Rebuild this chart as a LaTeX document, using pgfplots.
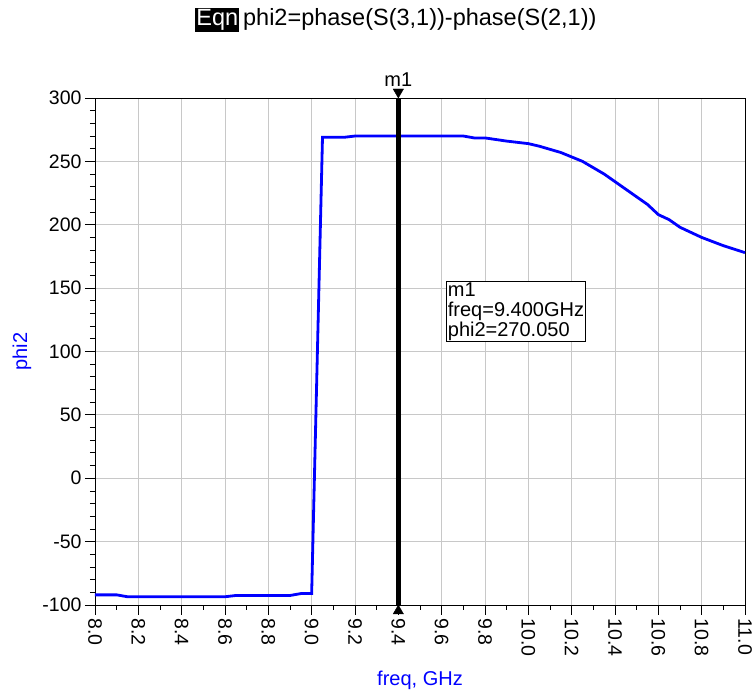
\documentclass[border=0pt]{standalone}
\usepackage{fontspec}
\setmainfont{Liberation Sans}
\usepackage{pgfplots}
\pgfplotsset{compat=1.18}
\definecolor{gridgray}{RGB}{200,200,200}
\definecolor{adsblue}{RGB}{0,0,255}
\begin{document}
\begin{tikzpicture}
\begin{axis}[
  scale only axis, width=650pt, height=507pt,
  at={(0,0)}, anchor=south west,
  xmin=8, xmax=11, ymin=-100, ymax=300,
  xtick={8.0,8.2,8.4,8.6,8.8,9.0,9.2,9.4,9.6,9.8,10.0,10.2,10.4,10.6,10.8,11.0},
  ytick={-100,-50,0,50,100,150,200,250,300},
  minor x tick num=1, minor y tick num=4,
  tick align=outside, major tick length=10pt, minor tick length=5pt,
  xtick pos=bottom, ytick pos=left,
  grid=major, major grid style={gridgray, line width=0.8pt},
  axis line style={black, line width=0.8pt},
  tick style={black, line width=0.8pt},
  /pgf/number format/assume math mode=true,
  ticklabel style={font=\fontsize{19.5}{21}\selectfont},
  xticklabel style={rotate=-90, anchor=west, /pgf/number format/fixed, /pgf/number format/precision=1, /pgf/number format/fixed zerofill},
  xlabel={freq, GHz}, ylabel={phi2},
  every axis x label/.style={at={([yshift=-75pt]axis description cs:0.5,0)}, anchor=center, font=\fontsize{20}{22}\selectfont, text=adsblue},
  every axis y label/.style={at={([xshift=-73pt]axis description cs:0,0.5)}, anchor=center, rotate=90, font=\fontsize{20}{22}\selectfont, text=adsblue},
  clip=false,
]
\addplot[adsblue, line width=2.8pt] coordinates {
(8.00,-92) (8.10,-92) (8.15,-93.5) (8.60,-93.5) (8.65,-92.5) (8.90,-92.5)
(8.95,-91) (9.00,-91) (9.05,269) (9.15,269) (9.20,270) (9.70,270)
(9.75,268.5) (9.80,268.5) (9.90,266) (10.00,264) (10.05,262) (10.15,257)
(10.25,250) (10.30,245) (10.35,240) (10.45,228) (10.55,216) (10.60,208)
(10.65,204) (10.70,198) (10.80,190) (10.90,183.5) (11.00,178)
};
\addplot[black, line width=4.5pt] coordinates {(9.4,-100) (9.4,300)};
\addplot[only marks, black, mark=triangle*, mark size=6pt, mark options={yshift=6pt, rotate=180}] coordinates {(9.4,300)};
\addplot[only marks, black, mark=triangle*, mark size=6pt, mark options={yshift=-6pt}] coordinates {(9.4,-100)};
\node[anchor=south, yshift=10pt, font=\fontsize{20}{22}\selectfont, inner sep=1pt] at (axis cs:9.4,300) {m1};
\node[draw, line width=0.8pt, fill=white, anchor=north west, align=left, inner sep=1.5pt, font=\fontsize{20}{20}\selectfont] at (axis cs:9.62,156) {m1\\freq=9.400GHz\\phi2=270.050};
\node[font=\fontsize{23.5}{25}\selectfont, inner sep=0pt] at ([yshift=78pt]axis description cs:0.463,1) {{\setlength{\fboxsep}{1pt}\colorbox{black}{\color{white}Eqn}}\,phi2=phase(S(3,1))-phase(S(2,1))};
\end{axis}
\pgfresetboundingbox
\path[use as bounding box] (-95pt,-88pt) rectangle (661pt,605pt);
\end{tikzpicture}
\end{document}
